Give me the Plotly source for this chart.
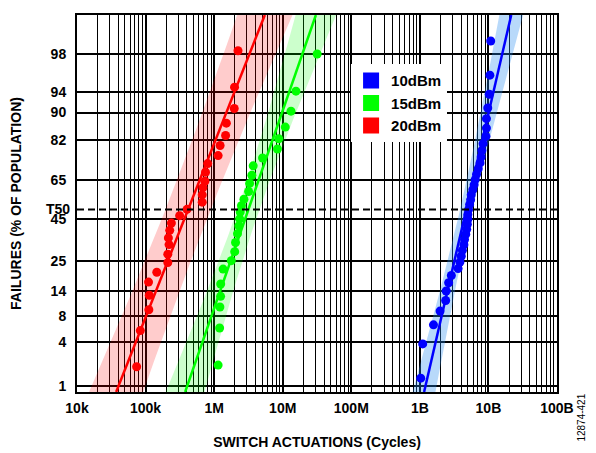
import numpy as np
import plotly.graph_objects as go
from statistics import NormalDist

# ---------------- data ----------------
# failure percentage (median rank) and switch actuations (cycles) per RF power level
red_pct = [1.9, 5.5, 9.3, 12.9, 16.9, 20.4, 24.2, 27.8, 32.2, 35.4, 39.2, 42.9, 46.8, 50.1,
           53.9, 57.7, 61.4, 64.6, 68.9, 72.8, 76.2, 80.1, 83.6, 87.3, 90.9, 94.7, 98.2]
red_cycles = [74.1e3, 83.8e3, 111.6e3, 113.2e3, 110.5e3, 145.8e3, 211e3, 211e3, 220e3, 215e3,
              225e3, 238e3, 314e3, 402e3, 670e3, 670e3, 686e3, 733e3, 748e3, 805e3,
              1.143e6, 1.222e6, 1.468e6, 1.507e6, 1.963e6, 1.982e6, 2.228e6]

green_pct = [2.0, 5.9, 9.9, 12.6, 16.3, 21.6, 25.0, 28.9, 33.2, 37.5, 41.5, 45.1, 48.7,
             52.0, 55.4, 59.4, 63.5, 67.5, 71.8, 75.2, 78.8, 82.5, 86.2, 90.3, 94.1, 98.0]
green_cycles = [1.143e6, 1.202e6, 1.213e6, 1.242e6, 1.245e6, 1.350e6, 1.781e6, 1.995e6,
                2.05e6, 2.19e6, 2.29e6, 2.36e6, 2.40e6, 2.50e6, 2.72e6, 3.18e6, 3.29e6,
                3.55e6, 3.71e6, 5.08e6, 8.38e6, 8.75e6, 10.9e6, 13.2e6, 15.6e6, 31.8e6]

blue_pct = [1.3, 3.8, 6.4, 9.0, 11.5, 14.1, 16.7, 19.2, 21.8, 24.4, 26.9, 29.5, 32.1, 34.6,
            37.2, 39.7, 42.3, 44.9, 47.4, 50.0, 52.6, 55.1, 57.7, 60.3, 62.8, 65.4, 67.9,
            70.5, 73.1, 75.6, 78.2, 80.8, 83.3, 85.9, 88.5, 91.0, 93.6, 96.2, 98.7]
blue_cycles_b = [1.03, 1.10, 1.58, 1.97, 2.38, 2.42, 2.63, 2.88, 3.61, 3.84, 4.02, 4.17,
                 4.39, 4.48, 4.67, 4.82, 4.93, 5.01, 5.01, 5.13, 5.31, 5.50, 5.61, 5.92,
                 6.18, 6.41, 6.70, 7.10, 7.55, 7.82, 8.02, 8.35, 9.20, 9.35, 9.35, 9.77,
                 10.3, 10.5, 10.8]
blue_cycles = [v * 1e9 for v in blue_cycles_b]

# lognormal fits: T50 (cycles) and slope (decades per standard deviation)
fit_t50 = {"red": 4.17e5, "green": 3.16e6, "blue": 4.75e9}
fit_slope = {"red": 0.4356, "green": 0.383, "blue": 0.2553}
# confidence band half-width (decades) at the centre and at the chart ends
band_mid = {"red": 0.33, "green": 0.16, "blue": 0.09}
band_end = {"red": 0.40, "green": 0.29, "blue": 0.17}

series_names = {"blue": "10dBm", "green": "15dBm", "red": "20dBm"}

# axes
x_tick_vals = [1e4, 1e5, 1e6, 1e7, 1e8, 1e9, 1e10, 1e11]
x_tick_text = ["10k", "100k", "1M", "10M", "100M", "1B", "10B", "100B"]
y_grid_pct = [1, 4, 8, 14, 25, 45, 65, 82, 90, 94, 98]
y_range_pct = [0.80, 99.49]
t50_pct = 50

# ---------------- styling ----------------
colors = {"red": "#FF0000", "green": "#00FF00", "blue": "#0000FF"}
band_colors = {"red": "rgba(255,0,0,0.2)", "green": "rgba(0,255,0,0.2)",
               "blue": "rgba(40,140,240,0.33)"}
FONT = "Liberation Sans, Arial, Helvetica, sans-serif"

nd = NormalDist()


def probit(p):
    return nd.inv_cdf(p / 100.0)


zlo, zhi = probit(y_range_pct[0]), probit(y_range_pct[1])

data = {
    "red": (red_cycles, red_pct),
    "green": (green_cycles, green_pct),
    "blue": (blue_cycles, blue_pct),
}

fig = go.Figure()

# confidence bands
for key in ["red", "green", "blue"]:
    zs = np.linspace(zlo, zhi, 80)
    c = np.log10(fit_t50[key]) + fit_slope[key] * zs
    wm, we = band_mid[key], band_end[key]
    w = np.sqrt(wm ** 2 + (we ** 2 - wm ** 2) * (zs / 2.5) ** 2)
    bx = 10 ** np.concatenate([c - w, (c + w)[::-1]])
    by = np.concatenate([zs, zs[::-1]])
    fig.add_trace(go.Scatter(x=bx, y=by, mode="lines", fill="toself",
                             fillcolor=band_colors[key], line=dict(width=0),
                             hoverinfo="skip", showlegend=False))

# fit lines
for key in ["red", "green", "blue"]:
    zs = np.array([zlo, zhi])
    lx = 10 ** (np.log10(fit_t50[key]) + fit_slope[key] * zs)
    fig.add_trace(go.Scatter(x=lx, y=zs, mode="lines",
                             line=dict(color=colors[key], width=2.5),
                             hoverinfo="skip", showlegend=False))

# data points
for key in ["red", "green", "blue"]:
    cx, cp = data[key]
    fig.add_trace(go.Scatter(x=cx, y=[probit(p) for p in cp], mode="markers",
                             marker=dict(color=colors[key], size=9),
                             name=series_names[key], showlegend=False))

# legend entries (square swatches)
for key in ["blue", "green", "red"]:
    fig.add_trace(go.Scatter(x=[None], y=[None], mode="markers",
                             marker=dict(symbol="square", size=16, color=colors[key]),
                             name=series_names[key], showlegend=True))

# dummy trace on yaxis2 for the T50 label
fig.add_trace(go.Scatter(x=[None], y=[None], yaxis="y2", showlegend=False))

minor_vals = [k * 10 ** d for d in range(4, 11) for k in range(2, 10)]

fig.update_layout(
    width=588, height=445,
    margin=dict(l=66, r=39, t=5, b=57),
    plot_bgcolor="white", paper_bgcolor="white",
    font=dict(family=FONT, size=14, color="black", weight="bold"),
    xaxis=dict(
        type="log", range=[4, 11],
        tickvals=x_tick_vals, ticktext=x_tick_text,
        showgrid=True, gridcolor="black", gridwidth=2,
        minor=dict(tickvals=minor_vals, showgrid=True, gridcolor="black", gridwidth=1),
        showline=True, mirror=True, linecolor="black", linewidth=2,
        ticks="", zeroline=False, ticklabelstandoff=2,
        tickfont=dict(size=14, family=FONT, weight="bold"),
        title=dict(text="SWITCH ACTUATIONS (Cycles)", standoff=22,
                   font=dict(size=14, family=FONT, weight="bold")),
    ),
    yaxis=dict(
        range=[zlo, zhi],
        tickvals=[probit(v) for v in y_grid_pct],
        ticktext=[str(v) for v in y_grid_pct],
        showgrid=True, gridcolor="black", gridwidth=1.5,
        showline=True, mirror=True, linecolor="black", linewidth=2,
        ticks="", zeroline=False, ticklabelstandoff=6,
        tickfont=dict(size=14, family=FONT, weight="bold"),
        title=dict(text="FAILURES (% OF POPULATION)", standoff=28,
                   font=dict(size=14, family=FONT, weight="bold")),
    ),
    yaxis2=dict(
        overlaying="y", side="left", anchor="x", range=[zlo, zhi],
        tickvals=[probit(t50_pct)], ticktext=["T50"],
        showgrid=False, zeroline=False, showline=False, ticks="",
        ticklabelstandoff=6,
        tickfont=dict(size=14, family=FONT, weight="bold"),
    ),
    legend=dict(x=0.571, y=0.8695, xanchor="left", yanchor="top",
                bgcolor="white", borderwidth=0,
                font=dict(size=15, family=FONT, weight="bold"),
                tracegroupgap=0),
    showlegend=True,
)

# T50 dashed reference line
fig.add_shape(type="line", xref="paper", x0=0, x1=1, yref="y",
              y0=probit(t50_pct), y1=probit(t50_pct),
              line=dict(color="black", width=2, dash="7px,4px"))

# figure number
fig.add_annotation(text="12874-421", xref="paper", yref="paper", x=1.052, y=-0.068,
                   textangle=-90, showarrow=False, xanchor="center", yanchor="middle",
                   font=dict(size=10, family=FONT, weight="normal", color="black"))

fig.write_html("out.html")
